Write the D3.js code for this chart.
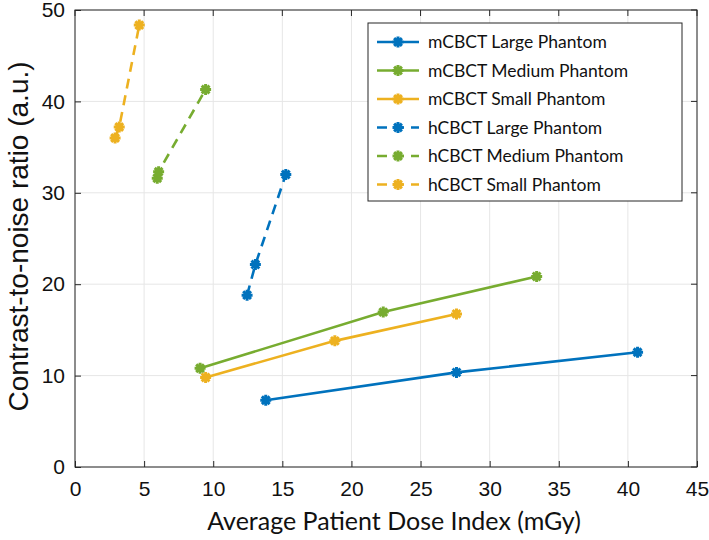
<!DOCTYPE html>
<html><head><meta charset="utf-8">
<script src="https://cdn.jsdelivr.net/npm/d3@7"></script>
<style>body{margin:0;background:#fff}</style>
</head><body><svg id="c" width="709" height="540"></svg>
<script>
// ---- data ----
const seriesNames = ["mCBCT Large Phantom","mCBCT Medium Phantom","mCBCT Small Phantom","hCBCT Large Phantom","hCBCT Medium Phantom","hCBCT Small Phantom"];
const mLargeDose = [13.8, 27.6, 40.7];
const mLargeCNR  = [7.3, 10.35, 12.55];
const mMediumDose = [9.05, 22.3, 33.4];
const mMediumCNR  = [10.8, 16.95, 20.85];
const mSmallDose = [9.45, 18.8, 27.6];
const mSmallCNR  = [9.8, 13.8, 16.75];
const hLargeDose = [12.45, 13.05, 15.25];
const hLargeCNR  = [18.8, 22.15, 32.0];
const hMediumDose = [5.95, 6.05, 9.45];
const hMediumCNR  = [31.6, 32.3, 41.3];
const hSmallDose = [2.9, 3.2, 4.65];
const hSmallCNR  = [36.0, 37.2, 48.35];
const xTicks = [0,5,10,15,20,25,30,35,40,45];
const yTicks = [0,10,20,30,40,50];

const colors = ["#0072BD","#77AC30","#EDB120","#0072BD","#77AC30","#EDB120"];
const dashed = [false,false,false,true,true,true];
const allX = [mLargeDose,mMediumDose,mSmallDose,hLargeDose,hMediumDose,hSmallDose];
const allY = [mLargeCNR,mMediumCNR,mSmallCNR,hLargeCNR,hMediumCNR,hSmallCNR];
const series = seriesNames.map((n,i)=>({name:n,color:colors[i],dashed:dashed[i],
  pts:allX[i].map((x,j)=>[x,allY[i][j]])}));

// ---- layout ----
const L=75, R=697, T=10, B=467;
const svg = d3.select("#c");
const x = d3.scaleLinear().domain([0,45]).range([L,R]);
const y = d3.scaleLinear().domain([0,50]).range([B,T]);

// grid
const g = svg.append("g");
g.selectAll(".gx").data(xTicks).join("line")
  .attr("x1",d=>x(d)).attr("x2",d=>x(d)).attr("y1",T).attr("y2",B)
  .attr("stroke","#e6e6e6").attr("stroke-width",1);
g.selectAll(".gy").data(yTicks).join("line")
  .attr("y1",d=>y(d)).attr("y2",d=>y(d)).attr("x1",L).attr("x2",R)
  .attr("stroke","#e6e6e6").attr("stroke-width",1);

// lines
const line = d3.line().x(d=>x(d[0])).y(d=>y(d[1]));
const star = (s)=>{const r=s, d=r*0.7071;
  return `M${-r},0L${r},0M0,${-r}L0,${r}M${-d},${-d}L${d},${d}M${-d},${d}L${d},${-d}`;};

series.forEach(s=>{
  svg.append("path").datum(s.pts).attr("d",line)
    .attr("fill","none").attr("stroke",s.color).attr("stroke-width",2.6)
    .attr("stroke-dasharray",s.dashed?"10,7":null);
  svg.selectAll(null).data(s.pts).join("path")
    .attr("transform",d=>`translate(${x(d[0])},${y(d[1])})`)
    .attr("d",star(5.5)).attr("stroke",s.color).attr("stroke-width",3).attr("fill","none");
});

// axes box
svg.append("rect").attr("x",L).attr("y",T).attr("width",R-L).attr("height",B-T)
  .attr("fill","none").attr("stroke","#262626").attr("stroke-width",1);

// axes via d3
const xAxis = d3.axisBottom(x).tickValues(xTicks).tickSizeInner(-6).tickSizeOuter(0).tickPadding(14);
const yAxis = d3.axisLeft(y).tickValues(yTicks).tickSizeInner(-6).tickSizeOuter(0).tickPadding(10);
const gx = svg.append("g").attr("transform",`translate(0,${B})`).call(xAxis);
const gy = svg.append("g").attr("transform",`translate(${L},0)`).call(yAxis);
[gx,gy].forEach(a=>{
  a.select(".domain").remove();
  a.selectAll(".tick line").attr("stroke","#262626");
  a.selectAll("text").attr("font-family","'Liberation Sans',Arial,sans-serif").attr("font-size",21).attr("fill","#111");
});
// top & right ticks
svg.append("g").selectAll("line").data(xTicks).join("line")
  .attr("x1",d=>x(d)).attr("x2",d=>x(d)).attr("y1",T).attr("y2",T+6).attr("stroke","#262626");
svg.append("g").selectAll("line").data(yTicks).join("line")
  .attr("y1",d=>y(d)).attr("y2",d=>y(d)).attr("x1",R).attr("x2",R-6).attr("stroke","#262626");

// axis labels
svg.append("text").attr("x",(L+R)/2 + 8).attr("y",530).attr("text-anchor","middle")
  .attr("font-family","Lato,'Open Sans',sans-serif").attr("font-size",25).attr("fill","#111")
  .text("Average Patient Dose Index (mGy)");
svg.append("text").attr("transform",`translate(28,${(T+B)/2 - 2}) rotate(-90)`).attr("text-anchor","middle")
  .attr("font-family","'Liberation Sans',Arial,sans-serif").attr("font-size",28).attr("fill","#111")
  .text("Contrast-to-noise ratio (a.u.)");

// legend
const lg = svg.append("g");
lg.append("rect").attr("x",368).attr("y",23).attr("width",314).attr("height",178)
  .attr("fill","#fff").attr("stroke","#262626").attr("stroke-width",1);
series.forEach((s,i)=>{
  const yy = 42 + i*28.5;
  lg.append("line").attr("x1",377).attr("x2",419).attr("y1",yy).attr("y2",yy)
    .attr("stroke",s.color).attr("stroke-width",2.6).attr("stroke-dasharray",s.dashed?"10,7":null);
  lg.append("path").attr("transform",`translate(398,${yy})`).attr("d",star(5.5))
    .attr("stroke",s.color).attr("stroke-width",3).attr("fill","none");
  lg.append("text").attr("x",428).attr("y",yy).attr("dy","0.35em")
    .attr("font-family","Lato,'Open Sans',sans-serif").attr("font-size",17.5).attr("fill","#111")
    .text(s.name);
});
</script></body></html>
